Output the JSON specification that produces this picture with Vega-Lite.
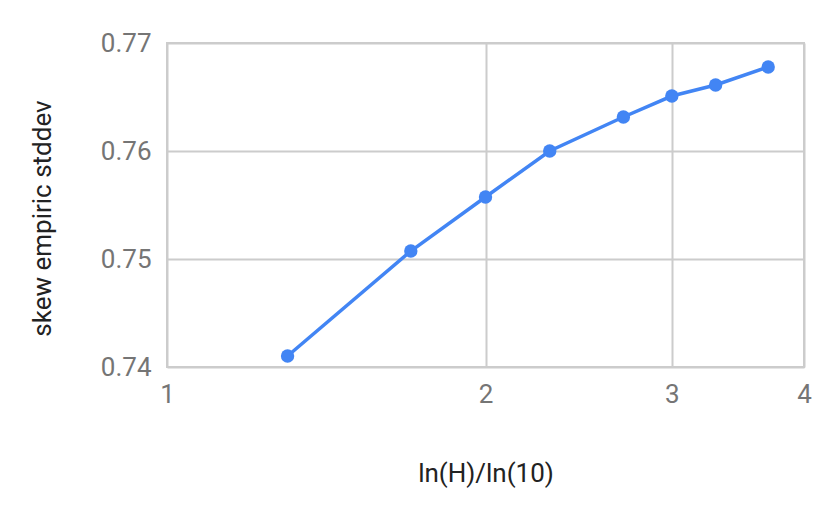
{
  "$schema": "https://vega.github.io/schema/vega-lite/v6.json",
  "width": 637,
  "height": 324,
  "autosize": {"type": "none"},
  "padding": {"left": 167, "top": 43, "right": 26, "bottom": 147},
  "background": "white",
  "config": {
    "view": {"stroke": "#cccccc", "strokeWidth": 2},
    "font": "Roboto"
  },
  "data": {
    "values": [
      {"x": 1.3, "y": 0.74102},
      {"x": 1.7, "y": 0.75074},
      {"x": 2.0, "y": 0.75574},
      {"x": 2.3, "y": 0.76},
      {"x": 2.7, "y": 0.76315},
      {"x": 3.0, "y": 0.76509},
      {"x": 3.3, "y": 0.76611},
      {"x": 3.7, "y": 0.76778}
    ]
  },
  "mark": {"type": "line", "color": "#4285F4", "strokeWidth": 3.5, "point": {"filled": true, "size": 180, "color": "#4285F4", "opacity": 1}},
  "encoding": {
    "x": {
      "field": "x", "type": "quantitative",
      "scale": {"type": "log", "domain": [1, 4], "nice": false},
      "axis": {
        "values": [1, 2, 3, 4], "format": "d", "labelFlush": false,
        "title": "ln(H)/ln(10)", "titleFont": "Roboto", "titleFontSize": 26, "titleFontWeight": "normal", "titleColor": "#222222", "titlePadding": 53,
        "labelFont": "Roboto", "labelFontSize": 26, "labelColor": "#757575", "labelPadding": 14,
        "ticks": false, "domain": false,
        "grid": true, "gridColor": "#cccccc", "gridWidth": 2
      }
    },
    "y": {
      "field": "y", "type": "quantitative",
      "scale": {"domain": [0.74, 0.77], "nice": false, "zero": false},
      "axis": {
        "values": [0.74, 0.75, 0.76, 0.77], "format": ".2f", "labelFlush": false,
        "title": "skew empiric stddev", "titleFont": "Roboto", "titleFontSize": 26, "titleFontWeight": "normal", "titleColor": "#222222", "titlePadding": 45, "titleY": 175,
        "labelFont": "Roboto", "labelFontSize": 26, "labelColor": "#757575", "labelPadding": 16,
        "ticks": false, "domain": false,
        "grid": true, "gridColor": "#cccccc", "gridWidth": 2
      }
    }
  }
}
